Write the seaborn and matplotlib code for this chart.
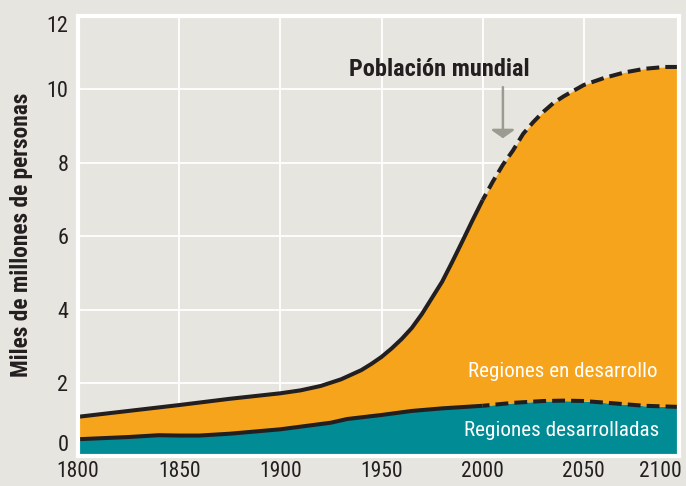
import numpy as np
import pandas as pd
import matplotlib
matplotlib.use("Agg")
import matplotlib.pyplot as plt
from matplotlib import font_manager
import seaborn as sns

# ---- data ----
years_total = [1800, 1825, 1850, 1875, 1900, 1910, 1920, 1930, 1940, 1945, 1950, 1955,
               1960, 1965, 1970, 1975, 1980, 1985, 1990, 1995, 2000, 2005, 2010, 2015,
               2020, 2025, 2030, 2035, 2040, 2050, 2060, 2070, 2080, 2090, 2097]
world_total = [1.08, 1.24, 1.40, 1.57, 1.72, 1.80, 1.92, 2.10, 2.35, 2.52, 2.71, 2.94,
               3.2, 3.5, 3.88, 4.32, 4.76, 5.3, 5.86, 6.43, 6.98, 7.48, 7.94, 8.33,
               8.78, 9.1, 9.38, 9.62, 9.8, 10.11, 10.3, 10.45, 10.55, 10.6, 10.6]
years_dev = [1800, 1825, 1840, 1850, 1860, 1875, 1900, 1925, 1933, 1950, 1965, 1980,
             2000, 2015, 2030, 2040, 2050, 2064, 2080, 2097]
developed = [0.47, 0.53, 0.58, 0.57, 0.57, 0.62, 0.74, 0.92, 1.02, 1.13, 1.24, 1.31,
             1.38, 1.46, 1.51, 1.52, 1.51, 1.45, 1.38, 1.35]
proj_start = 2000

xtick_pos = [1800, 1850, 1900, 1950, 2000, 2050, 2088]
xtick_labels = ["1800", "1850", "1900", "1950", "2000", "2050", "2100"]
ytick_vals = [0, 2, 4, 6, 8, 10, 12]
ytick_labels = ["0", "2", "4", "6", "8", "10", "12"]

ORANGE = "#f7a41d"
TEAL = "#008b95"
BG = "#e6e5df"
INK = "#231f20"

sns.set_theme(style="white")

# pick a condensed family if one is installed
names = {f.name for f in font_manager.fontManager.ttflist}
cands = ["Liberation Sans Narrow", "Roboto Condensed", "Open Sans Condensed",
         "DejaVu Sans Condensed", "Noto Sans Condensed", "Arial Narrow"]
fams = [c for c in cands if c in names]
stretch = "normal"
if not fams:
    stretch = "condensed"
plt.rcParams["font.family"] = fams + ["Roboto", "Liberation Sans", "DejaVu Sans"]
plt.rcParams["font.stretch"] = stretch

df_tot = pd.DataFrame({"year": years_total, "pop": world_total})
df_dev = pd.DataFrame({"year": years_dev, "pop": developed})

fig = plt.figure(figsize=(6.86, 4.86), dpi=100, facecolor=BG)
ax = fig.add_axes([0.1137, 0.0607, 0.876, 0.9074])
ax.set_facecolor(BG)

# areas
dev_on_tot = np.interp(years_total, years_dev, developed)
ax.fill_between(years_dev, 0, developed, color=TEAL, lw=0, zorder=2)
ax.fill_between(years_total, dev_on_tot, world_total, color=ORANGE, lw=0, zorder=2)

# lines: solid historical, dashed projection
for df in (df_tot, df_dev):
    hist = df[df["year"] <= proj_start]
    proj = df[df["year"] >= proj_start]
    sns.lineplot(data=hist, x="year", y="pop", ax=ax, color=INK, lw=2.9,
                 solid_capstyle="butt", solid_joinstyle="round", zorder=4)
    sns.lineplot(data=proj, x="year", y="pop", ax=ax, color=INK, lw=2.9,
                 linestyle=(1.5, (3.2, 1.5)), dash_capstyle="butt", zorder=4)

# grid drawn manually (white)
for v in ytick_vals[1:-1]:
    ax.axhline(v, color="white", lw=1.3, zorder=1)
for v in xtick_pos[1:-1]:
    ax.axvline(v, color="white", lw=1.3, zorder=1)

ax.set_xlim(1800, 2097)
ax.set_ylim(0, 12)
for s in ax.spines.values():
    s.set_color("white")
    s.set_linewidth(3)
    s.set_zorder(5)

ax.set_xticks(xtick_pos)
ax.set_xticklabels(xtick_labels)
ax.set_yticks(ytick_vals)
ax.set_yticklabels(ytick_labels)
ax.tick_params(length=0, labelcolor=INK)
ax.tick_params(axis="x", pad=3, labelsize=15.5)
ax.tick_params(axis="y", pad=7, labelsize=16)
ylabs = ax.get_yticklabels()
ylabs[0].set_va("bottom")
ylabs[-1].set_va("top")

ax.set_xlabel("")
ax.set_ylabel("Miles de millones de personas", fontsize=16.8, fontweight="bold", color=INK)
ax.yaxis.set_label_coords(-0.075, 0.502)

ax.text(1978.4, 10.52, "Población mundial", fontsize=17.6, fontweight="bold",
        color=INK, ha="center", va="center", zorder=6)
ax.annotate("", xy=(2010, 8.66), xytext=(2010, 10.05),
            arrowprops=dict(arrowstyle="-|>,head_length=0.35,head_width=0.5",
                            color="#9c9b92", lw=1.8, shrinkA=0, shrinkB=0,
                            mutation_scale=14), zorder=6)
ax.text(2039.6, 2.30, "Regiones en desarrollo", fontsize=15.1, color="white",
        ha="center", va="center", zorder=6)
ax.text(2039.1, 0.72, "Regiones desarrolladas", fontsize=15.2, color="white",
        ha="center", va="center", zorder=6)

fig.savefig("out.png", dpi=100, facecolor=BG)
